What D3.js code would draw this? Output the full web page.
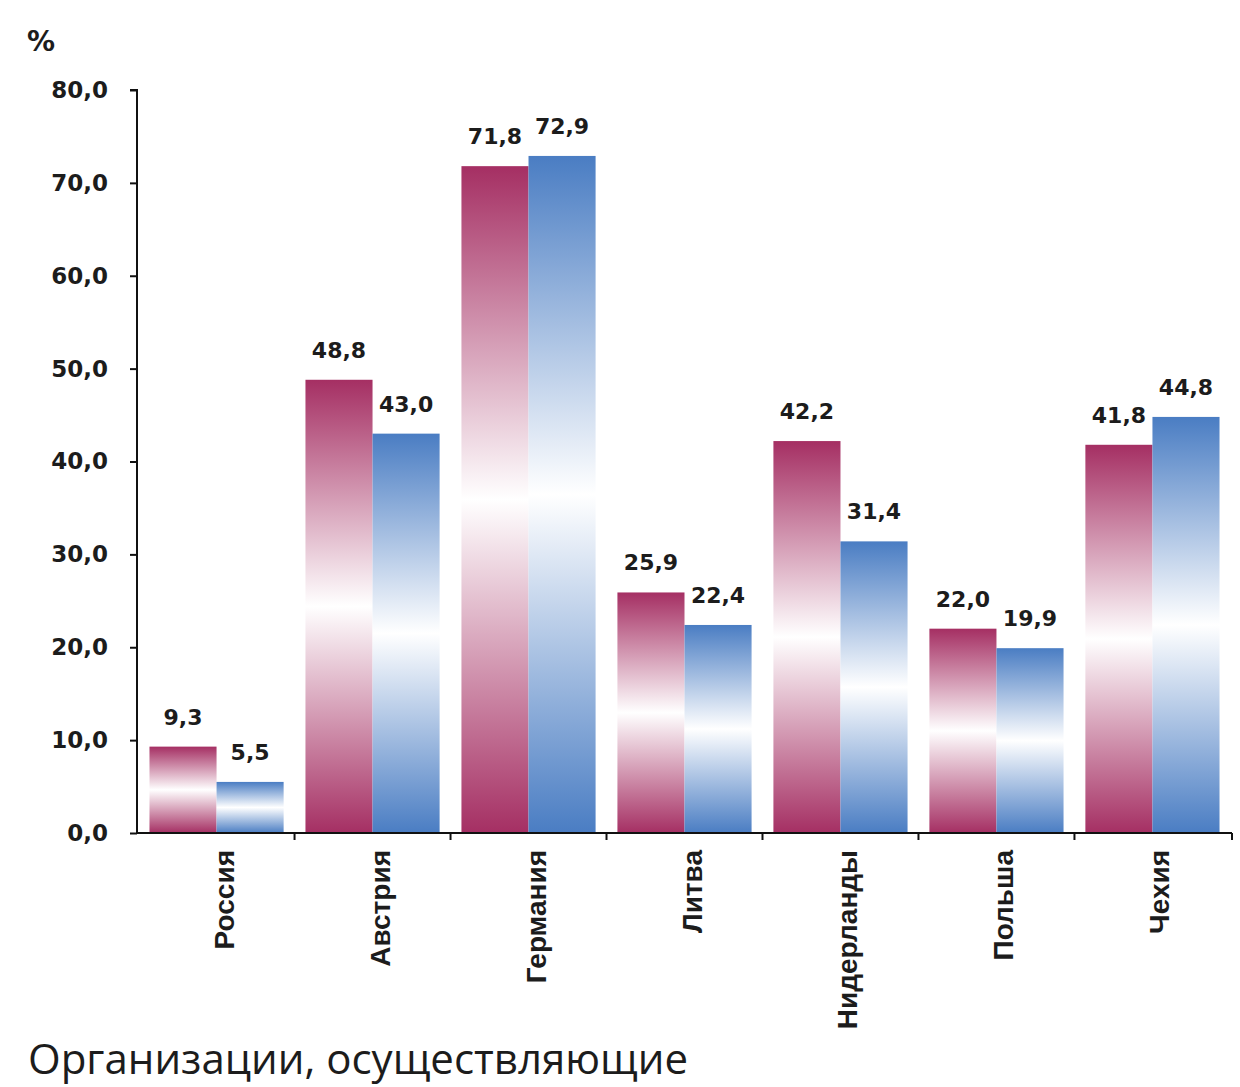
<!DOCTYPE html>
<html>
<head>
<meta charset="utf-8">
<script src="https://cdn.jsdelivr.net/npm/d3@7"></script>
<style>
  html, body { margin: 0; padding: 0; background: #ffffff; }
  svg { display: block; }
</style>
</head>
<body>
<svg id="chart" width="1240" height="1087"></svg>
<script>
// ---- data ----
const categories = ["Россия", "Австрия", "Германия", "Литва", "Нидерланды", "Польша", "Чехия"];
const seriesA = [9.3, 48.8, 71.8, 25.9, 42.2, 22.0, 41.8];
const seriesB = [5.5, 43.0, 72.9, 22.4, 31.4, 19.9, 44.8];
const yTickValues = [0, 10, 20, 30, 40, 50, 60, 70, 80];
const unitLabel = "%";
const footerText = "Организации, осуществляющие";

// ---- layout ----
const svg = d3.select("#chart");
const mLeft = 137, mRight = 1232, mTop = 90, mBottom = 833;

const x = d3.scaleBand().domain(categories).range([mLeft, mRight]).paddingInner(0.14).paddingOuter(0.08);
const sub = d3.scaleBand().domain(["A", "B"]).range([0, x.bandwidth()]).padding(0);
const y = d3.scaleLinear().domain([0, 80]).range([mBottom, mTop]);
const fmt = v => d3.format(".1f")(v).replace(".", ",");

// gradients
const defs = svg.append("defs");
function grad(id, color) {
  const g = defs.append("linearGradient").attr("id", id)
    .attr("x1", 0).attr("y1", 0).attr("x2", 0).attr("y2", 1);
  g.append("stop").attr("offset", "0%").attr("stop-color", color);
  g.append("stop").attr("offset", "50%").attr("stop-color", "#ffffff");
  g.append("stop").attr("offset", "100%").attr("stop-color", color);
}
grad("gA", "#a52f63");
grad("gB", "#4a7dc3");

const rows = categories.map((c, i) => ({ c, a: seriesA[i], b: seriesB[i] }));

// bars
const groups = svg.append("g").selectAll("g").data(rows).join("g")
  .attr("transform", d => `translate(${x(d.c)},0)`);

groups.append("rect")
  .attr("x", sub("A")).attr("width", sub.bandwidth())
  .attr("y", d => y(d.a)).attr("height", d => y(0) - y(d.a))
  .attr("fill", "url(#gA)");
groups.append("rect")
  .attr("x", sub("B")).attr("width", sub.bandwidth())
  .attr("y", d => y(d.b)).attr("height", d => y(0) - y(d.b))
  .attr("fill", "url(#gB)");

// value labels
const labelFont = "'DejaVu Sans', sans-serif";
groups.append("text")
  .attr("x", sub("A") + sub.bandwidth() / 2).attr("y", d => y(d.a) - 22)
  .attr("text-anchor", "middle").attr("font-family", labelFont)
  .attr("font-weight", "bold").attr("font-size", 22).attr("fill", "#1c1c1c")
  .text(d => fmt(d.a));
groups.append("text")
  .attr("x", sub("B") + sub.bandwidth() / 2).attr("y", d => y(d.b) - 22)
  .attr("text-anchor", "middle").attr("font-family", labelFont)
  .attr("font-weight", "bold").attr("font-size", 22).attr("fill", "#1c1c1c")
  .text(d => fmt(d.b));

// y axis
const yAxis = svg.append("g").attr("transform", `translate(${mLeft},0)`)
  .call(d3.axisLeft(y).tickValues(yTickValues).tickFormat(fmt).tickSize(7).tickPadding(22));
yAxis.select(".domain").attr("stroke", "#111").attr("stroke-width", 2).attr("d", `M-7,${mTop}H0V${mBottom}`);
yAxis.selectAll(".tick line").attr("stroke", "#111").attr("stroke-width", 2);
yAxis.selectAll(".tick text").attr("font-family", labelFont).attr("font-weight", "bold")
  .attr("font-size", 23).attr("fill", "#1c1c1c");

// x axis
const boundaries = categories.map(c => x(c) - x.step() * x.paddingInner() / 2).concat([mRight]);
const xAxis = svg.append("g").attr("transform", `translate(0,${mBottom})`);
xAxis.append("line").attr("x1", mLeft).attr("x2", mRight).attr("y1", 0).attr("y2", 0)
  .attr("stroke", "#111").attr("stroke-width", 2);
xAxis.selectAll("line.tk").data(boundaries.slice(1)).join("line").attr("class", "tk")
  .attr("x1", d => d).attr("x2", d => d).attr("y1", 0).attr("y2", 7)
  .attr("stroke", "#111").attr("stroke-width", 2);

// category labels (rotated)
svg.append("g").selectAll("text").data(categories).join("text")
  .attr("transform", c => `translate(${x(c) + x.bandwidth() / 2 + 17},${mBottom + 17}) rotate(-90)`)
  .attr("text-anchor", "end")
  .attr("font-family", "'Liberation Sans', Arial, sans-serif")
  .attr("font-weight", "bold").attr("font-size", 28).attr("fill", "#1c1c1c")
  .text(c => c);

// unit label
svg.append("text").attr("x", 27).attr("y", 51)
  .attr("font-family", labelFont).attr("font-weight", "bold").attr("font-size", 28)
  .attr("fill", "#1c1c1c").text(unitLabel);

// footer
svg.append("text").attr("x", 28).attr("y", 1074)
  .attr("font-family", "'Open Sans', 'Noto Sans', sans-serif").attr("font-size", 42)
  .attr("fill", "#1c1c1c").text(footerText);
</script>
</body>
</html>
